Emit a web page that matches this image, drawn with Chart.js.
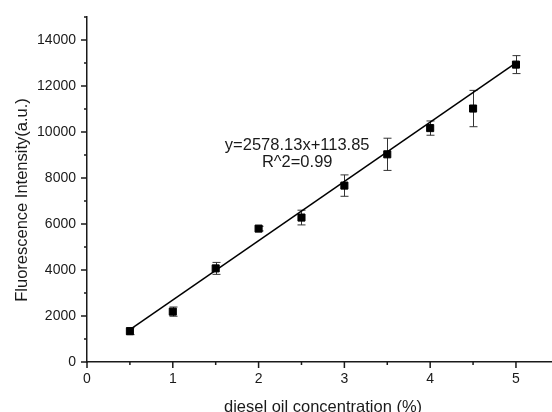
<!DOCTYPE html>
<html>
<head>
<meta charset="utf-8">
<script src="https://cdn.jsdelivr.net/npm/chart.js@4/dist/chart.umd.min.js"></script>
<style>
  html, body { margin: 0; padding: 0; background: #fff; overflow: hidden; }
  #chart { display: block; }
</style>
</head>
<body>
<canvas id="chart" width="552" height="412"></canvas>
<script>
// diesel oil concentration (%) vs. mean fluorescence intensity, with std. deviation
const concentrations = [0.5, 1, 1.5, 2, 2.5, 3, 3.5, 4, 4.5, 5];
const intensities = [1340, 2190, 4070, 5800, 6280, 7670, 9030, 10170, 11020, 12930];
const intensityErrors = [150, 200, 260, 100, 320, 465, 700, 310, 790, 390];

// linear fit
const SLOPE = 2578.13;
const INTERCEPT = 113.85;
const R_SQUARED = 0.99;

const xTicks = [0, 0.5, 1, 1.5, 2, 2.5, 3, 3.5, 4, 4.5, 5];
const xLabels = [0, 1, 2, 3, 4, 5];
const yTicks = [0, 1000, 2000, 3000, 4000, 5000, 6000, 7000, 8000, 9000, 10000, 11000, 12000, 13000, 14000, 15000];
const yLabels = [0, 2000, 4000, 6000, 8000, 10000, 12000, 14000];

const INK = `#1a1a1a`;
const FONT = `"Liberation Sans", Arial, sans-serif`;

const fitAt = (x) => SLOPE * x + INTERCEPT;

const points = concentrations.map((x, i) => ({x, y: intensities[i]}));
const fitLine = [concentrations[0], concentrations[concentrations.length - 1]]
  .map((x) => ({x, y: fitAt(x)}));

// error bars, short/long tick marks, fit equation and axis titles
const decorations = {
  id: `decorations`,
  beforeDatasetsDraw(chart) {
    const {ctx, scales: {x, y}} = chart;
    ctx.save();
    ctx.strokeStyle = `#333`;
    ctx.lineWidth = 1;
    concentrations.forEach((c, i) => {
      const px = Math.round(x.getPixelForValue(c)) + 0.5;
      const top = y.getPixelForValue(intensities[i] + intensityErrors[i]);
      const bottom = y.getPixelForValue(intensities[i] - intensityErrors[i]);
      ctx.beginPath();
      ctx.moveTo(px, top);
      ctx.lineTo(px, bottom);
      ctx.moveTo(px - 4, top);
      ctx.lineTo(px + 4, top);
      ctx.moveTo(px - 4, bottom);
      ctx.lineTo(px + 4, bottom);
      ctx.stroke();
    });
    ctx.restore();
  },
  afterDraw(chart) {
    const {ctx, chartArea, scales: {x, y}} = chart;
    ctx.save();
    ctx.strokeStyle = INK;
    ctx.lineWidth = 1.5;
    ctx.beginPath();
    xTicks.forEach((v) => {
      const px = x.getPixelForValue(v);
      const len = xLabels.includes(v) ? 6 : 3;
      ctx.moveTo(px, chartArea.bottom);
      ctx.lineTo(px, chartArea.bottom + len);
    });
    yTicks.forEach((v) => {
      const py = y.getPixelForValue(v);
      const len = yLabels.includes(v) ? 6 : 3;
      ctx.moveTo(chartArea.left, py);
      ctx.lineTo(chartArea.left - len, py);
    });
    ctx.stroke();

    ctx.fillStyle = INK;
    ctx.font = `16.5px ${FONT}`;
    ctx.textAlign = `center`;
    ctx.textBaseline = `alphabetic`;

    const ex = x.getPixelForValue(2.45);
    const ey = y.getPixelForValue(9200);
    ctx.fillText(`y=${SLOPE}x+${INTERCEPT}`, ex, ey);
    ctx.fillText(`R^2=${R_SQUARED}`, ex, ey + 17);

    ctx.fillText(`diesel oil concentration (%)`, 323, 412);

    ctx.translate(27, 200);
    ctx.rotate(-Math.PI / 2);
    ctx.fillText(`Fluorescence Intensity(a.u.)`, 0, 0);
    ctx.restore();
  }
};

const hiddenGrid = {
  display: true,
  drawOnChartArea: false,
  drawTicks: true,
  tickLength: 6,
  color: `rgba(0,0,0,0)`,
};

new Chart(document.getElementById(`chart`), {
  data: {
    datasets: [
      {
        type: `line`,
        label: `fit`,
        data: fitLine,
        borderColor: `#000`,
        borderWidth: 1.5,
        pointRadius: 0,
        fill: false,
      },
      {
        type: `scatter`,
        label: `intensity`,
        data: points,
        pointStyle: `rect`,
        pointRadius: 5,
        backgroundColor: `#000`,
        borderColor: `#000`,
        borderWidth: 1,
      },
    ],
  },
  options: {
    responsive: false,
    animation: false,
    layout: {
      autoPadding: false,
      padding: {top: 17, right: 0, bottom: 0, left: 0},
    },
    plugins: {
      legend: {display: false},
      tooltip: {enabled: false},
    },
    scales: {
      x: {
        type: `linear`,
        min: 0,
        max: 5.42,
        afterBuildTicks: (scale) => {
          scale.ticks = xTicks.map((value) => ({value}));
        },
        afterFit: (scale) => {
          scale.height = 50;
          scale.paddingLeft = 0;
          scale.paddingRight = 0;
        },
        grid: hiddenGrid,
        border: {display: true, color: INK, width: 1.5},
        ticks: {
          padding: 3,
          color: INK,
          font: {family: FONT, size: 14},
          maxRotation: 0,
          autoSkip: false,
          callback: (v) => (xLabels.includes(v) ? String(v) : ``),
        },
      },
      y: {
        type: `linear`,
        min: 0,
        max: 15000,
        afterBuildTicks: (scale) => {
          scale.ticks = yTicks.map((value) => ({value}));
        },
        afterFit: (scale) => {
          scale.width = 87;
        },
        grid: hiddenGrid,
        border: {display: true, color: INK, width: 1.5},
        ticks: {
          padding: 5,
          color: INK,
          font: {family: FONT, size: 14},
          autoSkip: false,
          callback: (v) => (yLabels.includes(v) ? String(v) : ``),
        },
      },
    },
  },
  plugins: [decorations],
});
</script>
</body>
</html>
